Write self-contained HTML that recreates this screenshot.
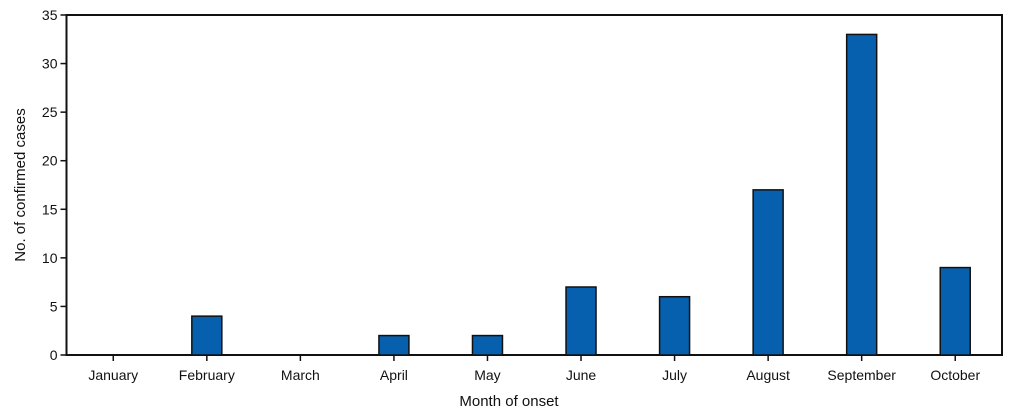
<!DOCTYPE html>
<html><head><meta charset="utf-8"><style>
html,body{margin:0;padding:0;background:#fff;}
svg{display:block;font-family:"Liberation Sans",sans-serif;}
</style></head><body>
<svg id="chart" width="1020" height="417">
<g id="axes"></g><g id="bars"></g>
<text x="509" y="406" text-anchor="middle" font-size="15" fill="#111">Month of onset</text>
<text transform="translate(25,185) rotate(-90)" text-anchor="middle" font-size="15" fill="#111">No. of confirmed cases</text>
</svg>
<script>
const categories=["January","February","March","April","May","June","July","August","September","October"];
const values=[0,4,0,2,2,7,6,17,33,9];
const yTicks=[0,5,10,15,20,25,30,35];
const L=66.5,R=1002,T=15,B=355,yMax=35;
const NS="http://www.w3.org/2000/svg";
const band=(R-L)/categories.length;
const x=i=>L+band*(i+0.5);
const y=v=>B-(v/yMax)*(B-T);
const axes=document.getElementById('axes'),bars=document.getElementById('bars');
function mk(t,a,p){const e=document.createElementNS(NS,t);for(const k in a)e.setAttribute(k,a[k]);p.appendChild(e);return e;}
const box=mk('rect',{x:L,y:T,width:R-L,height:B-T,fill:'none',stroke:'#111','stroke-width':2},axes);


yTicks.forEach(v=>{
  const t=mk('line',{x1:L-6,x2:L,y1:y(v),y2:y(v),stroke:'#111','stroke-width':1.5},axes);
  
  
  const l=mk('text',{x:L-9,y:y(v)+5,'text-anchor':'end','font-size':14,fill:'#111'},axes);
  l.textContent=v;
  
  
});
categories.forEach((c,i)=>{
  const t=mk('line',{x1:x(i),x2:x(i),y1:B,y2:B+6,stroke:'#111','stroke-width':1.5},axes);
  
  
  const l=mk('text',{x:x(i),y:B+25,'text-anchor':'middle','font-size':14,fill:'#111'},axes);
  l.textContent=c;
  
  
  if(values[i]>0){
    const r=mk('rect',{x:x(i)-15,y:y(values[i]),width:30,height:B-y(values[i]),fill:'#0760ad',stroke:'#111','stroke-width':1.5},bars);
    
    
  }
});
</script>
</body></html>
